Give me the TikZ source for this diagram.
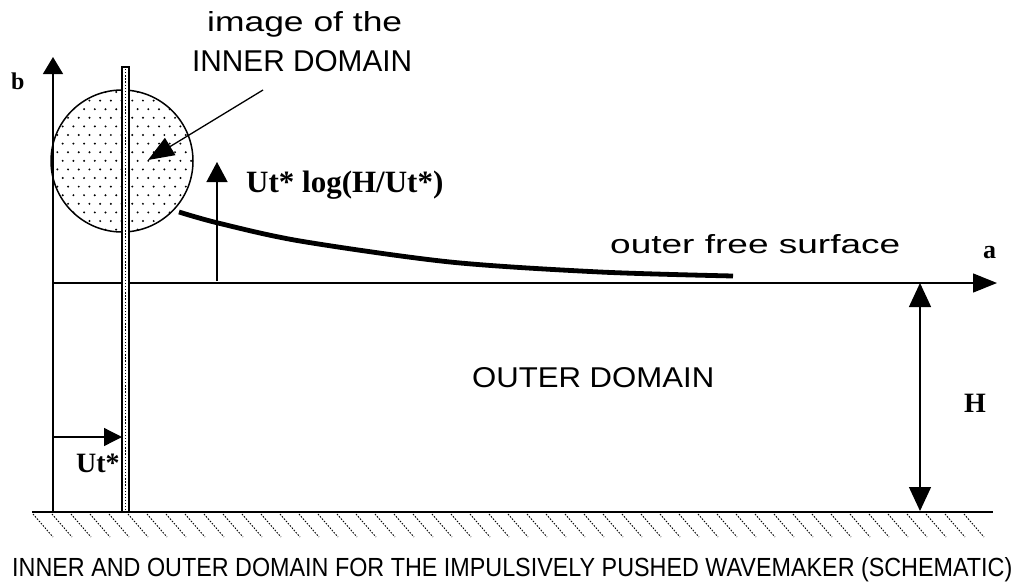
\documentclass[tikz,border=0pt]{standalone}
\usepackage{graphicx}
\usepackage{fontspec}
\setmainfont{Liberation Serif}
\newfontfamily\sansf{Liberation Sans}
\usetikzlibrary{arrows.meta}
\newcommand{\fitto}[3]{\resizebox{#1}{#2}{#3}}
\begin{document}
\begin{tikzpicture}[x=1pt,y=-1pt,
  axisline/.style={line width=1.4pt},
  thinline/.style={line width=1.3pt},
  serifl/.style={inner sep=0pt, anchor=base west, font=\bfseries},
  sansl/.style={inner sep=0pt, anchor=base west, font=\sansf},
  hatchline/.style={line width=0.9pt, dash pattern=on 1.6pt off 1.4pt},
]
\useasboundingbox (0,0) rectangle (1024,586);

% ---- dotted circle (image of the inner domain)
\begin{scope}
  \clip (122,161) circle (71pt);
  \foreach \j in {0,...,17}
    \foreach \i in {0,...,14}
      \fill ({52+\i*10.7+mod(\j,2)*5.35},{92+\j*8.6}) circle (1.1pt);
\end{scope}
\draw[line width=1.5pt] (122,161) circle (71pt);

% ---- coordinates
\coordinate (bfoot) at (53,512);
\coordinate (btip) at (53,57);
\coordinate (aorig) at (53,283);
\coordinate (atip) at (997,283);
\coordinate (gl) at (32,512);
\coordinate (gr) at (993,512);
\coordinate (uL) at (53,437);
\coordinate (uR) at (122,437);
\coordinate (hT) at (920,283);
\coordinate (hB) at (920,511);
\coordinate (upB) at (217,281);
\coordinate (upT) at (217,162);
\coordinate (inS) at (263,90);
\coordinate (inE) at (148,160);

% ---- ground and hatching
\draw[axisline] (gl) -- (gr);
\foreach \x in {33,52,...,973}
  \draw[hatchline] (\x,514) -- ++(20,23);

% ---- axes
\draw[axisline, -{Triangle[length=17pt,width=20pt]}] (bfoot) -- (btip);
\draw[axisline, -{Triangle[length=24pt,width=19pt]}] (aorig) -- (atip);

% ---- outer free surface (thick curve)
\draw[line width=4.8pt] plot[smooth] coordinates
  {(179,212) (218,223) (300,241) (450,262) (600,272) (733,276)};

% ---- wavemaker
\draw[line width=1.1pt, fill=white] (122,67) rectangle (129,512);
\draw[line width=1.3pt, dash pattern=on 1.3pt off 1.8pt] (125.5,69) -- (125.5,510);

% ---- dimension arrows
\draw[thinline, -{Triangle[length=18pt,width=18pt]}] (uL) -- (uR);
\draw[thinline, {Triangle[length=24pt,width=22pt]}-{Triangle[length=24pt,width=22pt]}] (hT) -- (hB);
\draw[thinline, -{Triangle[length=20pt,width=21pt]}] (upB) -- (upT);
\draw[thinline, -{Triangle[length=26pt,width=20pt]}] (inS) -- (inE);

% ---- serif labels
\node[serifl, font=\bfseries\fontsize{24pt}{24pt}\selectfont] (lb) at (11,89) {b};
\node[serifl, font=\bfseries\fontsize{26pt}{26pt}\selectfont] (la) at (983,258) {a};
\node[serifl, font=\bfseries\fontsize{28pt}{28pt}\selectfont] (lH) at (964,412) {H};
\node[serifl, font=\bfseries\fontsize{28pt}{28pt}\selectfont] (lU) at (76,472) {Ut*};
\node[serifl, font=\bfseries\fontsize{31pt}{31pt}\selectfont] (llog) at (246,192) {Ut* log(H/Ut*)};

% ---- sans labels
\node[sansl] (img) at (207,32) {\fitto{195pt}{20pt}{image of the}};
\node[sansl] (inner) at (192,71) {\fitto{220pt}{21pt}{INNER DOMAIN}};
\node[sansl] (surf) at (610,253) {\fitto{290pt}{19pt}{outer free surface}};
\node[sansl] (outer) at (472,387) {\fitto{242pt}{20pt}{OUTER DOMAIN}};
\node[sansl] (cap) at (12,576) {\fitto{1000pt}{19pt}{INNER AND OUTER DOMAIN FOR THE IMPULSIVELY PUSHED WAVEMAKER (SCHEMATIC)}};
\end{tikzpicture}
\end{document}
